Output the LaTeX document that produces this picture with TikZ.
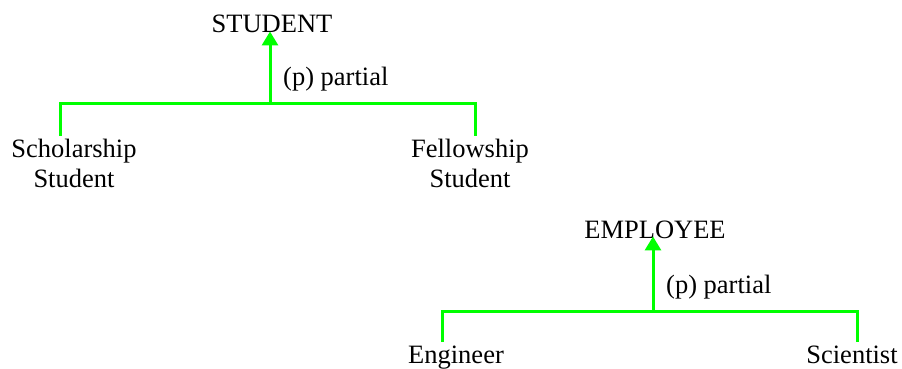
\documentclass[tikz,border=0pt]{standalone}
\usepackage{fontspec}
\setmainfont{Liberation Serif}
\usetikzlibrary{arrows.meta}
\definecolor{lgreen}{RGB}{0,255,0}
\tikzset{
  lbl/.style={inner sep=0pt, font=\fontsize{26.5}{30}\selectfont},
  twoline/.style={lbl, align=center, anchor=north},
  link/.style={draw=lgreen, line width=3pt, line cap=butt, line join=miter},
  isa/.style={link, -{Triangle[width=16pt,length=14pt]}}
}
\begin{document}
\begin{tikzpicture}[x=1pt,y=-1pt]
\useasboundingbox (0,0) rectangle (902,368);
% --- STUDENT hierarchy ---
\node[lbl, anchor=base] (student) at (272,32) {STUDENT};
\node[lbl, anchor=base west] (plab1) at (283,85) {(p) partial};
\node[twoline] (schol) at (74,139) {Scholarship\\Student};
\node[twoline] (fellow) at (470,139) {Fellowship\\Student};
\coordinate (hub1) at (270,103);
\coordinate (l1) at (60,103);
\coordinate (l1e) at (60,136);
\coordinate (r1) at (475,103);
\coordinate (r1e) at (475,136);
\draw[link] (l1e) -- (l1) -- (r1) -- (r1e);
\draw[isa] (hub1) -- ([yshift=1pt]student.south -| hub1);
% --- EMPLOYEE hierarchy ---
\node[lbl, anchor=base] (employee) at (655,238) {EMPLOYEE};
\node[lbl, anchor=base west] (plab2) at (666,293) {(p) partial};
\node[lbl, anchor=base] (engineer) at (456,363) {Engineer};
\node[lbl, anchor=base] (scientist) at (852,363) {Scientist};
\coordinate (hub2) at (653,311);
\coordinate (l2) at (442,311);
\coordinate (l2e) at (442,342);
\coordinate (r2) at (857,311);
\coordinate (r2e) at (857,342);
\draw[link] (l2e) -- (l2) -- (r2) -- (r2e);
\draw[isa] (hub2) -- ([yshift=2pt]employee.south -| hub2);
\end{tikzpicture}
\end{document}
